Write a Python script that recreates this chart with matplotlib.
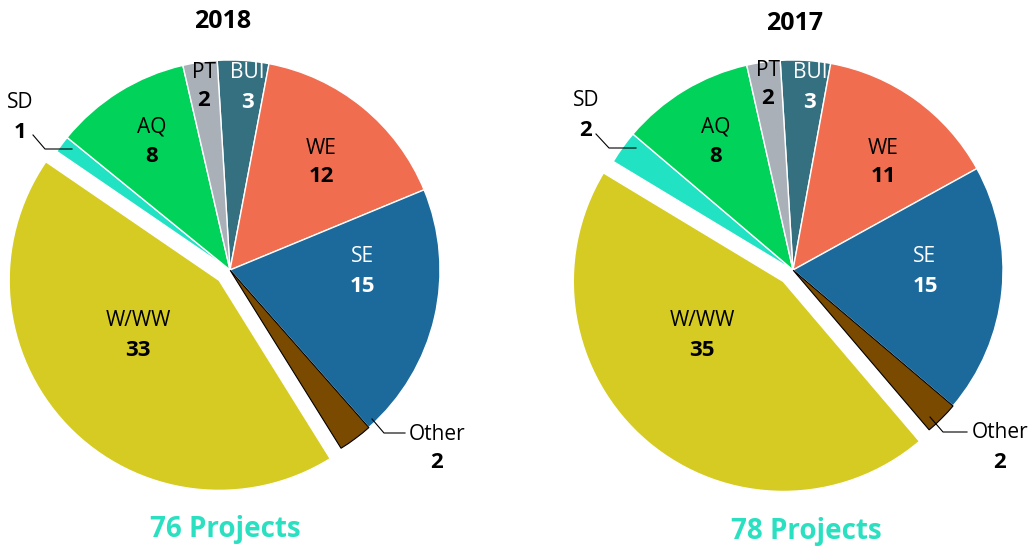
import matplotlib
matplotlib.use('Agg')
import matplotlib.pyplot as plt

plt.rcParams['font.family'] = ['Open Sans', 'DejaVu Sans']

# data
cats = ['BUI', 'WE', 'SE', 'Other', 'W/WW', 'SD', 'AQ', 'PT']
vals_2018 = [3, 12, 15, 2, 33, 1, 8, 2]
vals_2017 = [3, 11, 15, 2, 35, 2, 8, 2]
years = ['2018', '2017']
totals = ['76 Projects', '78 Projects']

colors = ['#357080', '#F06D50', '#1C6A9C', '#7A4A00', '#D6CB22', '#22E2C4', '#00D25A', '#A9B0B8']
txt_col = ['white', 'black', 'white', 'black', 'black', 'black', 'black', 'black']
explode = [0, 0, 0, 0, 15, 0, 0, 0]   # data units (px)

W, H = 1032, 550
fig = plt.figure(figsize=(W/100, H/100), dpi=100)
ax = fig.add_axes([0, 0, 1, 1])

def Y(y):  # pixel (top-down) -> axes y
    return H - y

centers = [(230, 270), (793, 270)]
# label name positions (pixel coords, top-down)
lab_pos = [
    {'BUI': (247, 73), 'WE': (321, 148), 'SE': (362, 257), 'Other': (437, 434),
     'W/WW': (138, 321), 'SD': (20, 103), 'AQ': (152, 127), 'PT': (204, 72)},
    {'BUI': (810, 73), 'WE': (883, 148), 'SE': (925, 257), 'Other': (1000, 433),
     'W/WW': (702, 321), 'SD': (586, 101), 'AQ': (716, 127), 'PT': (768, 70)},
]
leaders = [
    {'SD': [(33, 135), (45, 149), (72, 149)], 'Other': [(372, 419), (384, 433), (405, 433)]},
    {'SD': [(596, 134), (609, 148), (636, 148)], 'Other': [(930, 417), (943, 432), (967, 432)]},
]
title_pos = [(223, 22), (795, 24)]
total_pos = [(225, 530), (806, 532)]

for i, vals in enumerate([vals_2018, vals_2017]):
    cx, cy = centers[i]
    wedges, _ = ax.pie(vals, colors=colors, explode=explode, startangle=93.5,
                       counterclock=False, radius=210, center=(cx, Y(cy)),
                       wedgeprops=dict(edgecolor='white', linewidth=1))
    wedges[3].set_edgecolor('black')
    wedges[3].set_linewidth(0.8)
    for k, c in enumerate(cats):
        x, y = lab_pos[i][c]
        ax.text(x, Y(y), c, ha='center', va='center', fontsize=15, color=txt_col[k])
        ax.text(x, Y(y + 29), str(vals[k]), ha='center', va='center', fontsize=16,
                fontweight='bold', color=txt_col[k])
    for c, pts in leaders[i].items():
        ax.plot([p[0] for p in pts], [Y(p[1]) for p in pts], color='black', lw=0.8)
    ax.text(title_pos[i][0], Y(title_pos[i][1]), years[i], ha='center', va='center',
            fontsize=18, fontweight='bold')
    ax.text(total_pos[i][0], Y(total_pos[i][1]), totals[i], ha='center', va='center',
            fontsize=20, fontweight='bold', color='#2AE0C0')

ax.set_xlim(0, W)
ax.set_ylim(0, H)
ax.set_aspect('equal')
ax.axis('off')

fig.savefig('out.png', dpi=100)
